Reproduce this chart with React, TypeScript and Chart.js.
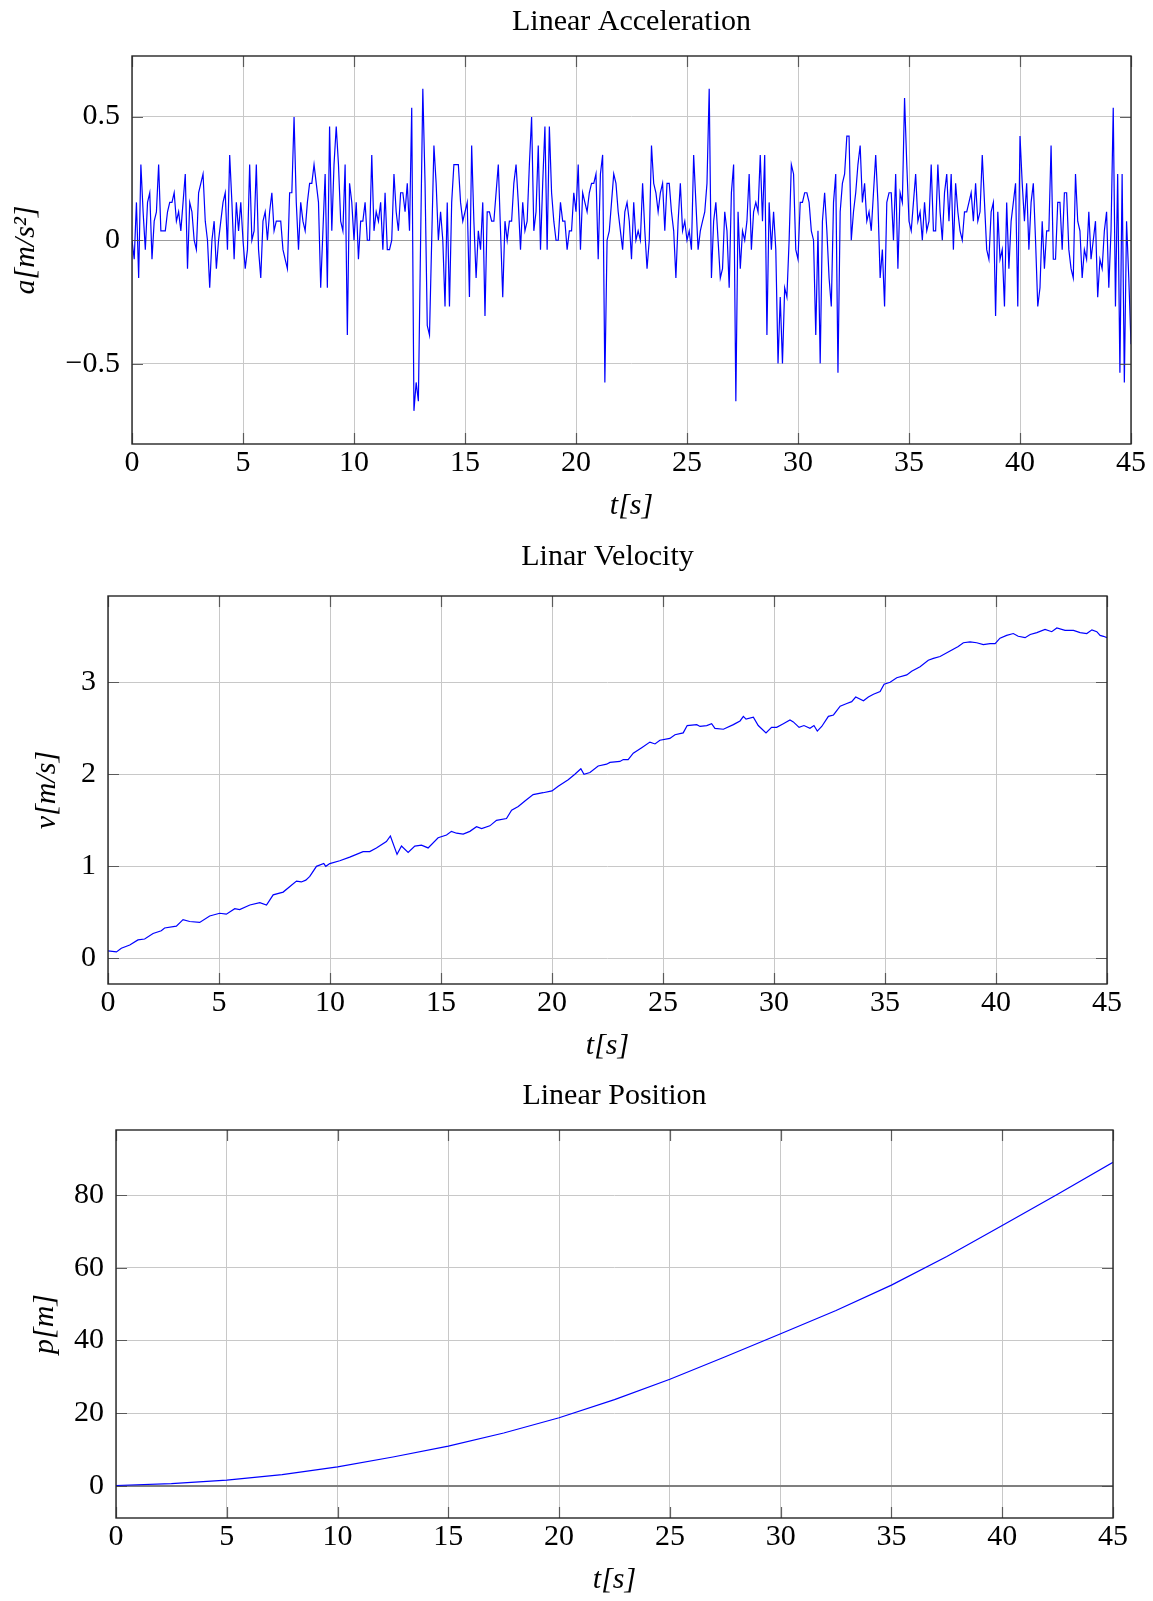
import React, { useEffect, useRef } from 'react';
import { Chart, registerables } from 'chart.js';

Chart.register(...registerables);

// ---------- DATA ----------
const sampleStep = 0.1; // s, sampling period of the acceleration log

const accelerationValues: number[] = [
  0, -0.077, 0.153, -0.153, 0.306, 0.115, -0.038, 0.153, 0.192, -0.077,
  0.077, 0.115, 0.306, 0.038, 0.038, 0.038, 0.115, 0.153, 0.153, 0.192,
  0.077, 0.115, 0.038, 0.153, 0.268, -0.115, 0.153, 0.115, 0, -0.038,
  0.192, 0.23, 0.268, 0.077, 0, -0.192, 0, 0.077, -0.115, 0,
  0.077, 0.153, 0.192, -0.038, 0.345, 0.153, -0.077, 0.153, 0.038, 0.153,
  0, -0.115, -0.038, 0.306, 0, 0.038, 0.306, -0.038, -0.153, 0.077,
  0.115, 0, 0.115, 0.192, 0.038, 0.077, 0.077, 0.077, -0.038, -0.077,
  -0.115, 0.192, 0.192, 0.498, 0.153, -0.038, 0.153, 0.077, 0.038, 0.153,
  0.23, 0.23, 0.306, 0.23, 0.153, -0.192, 0.038, 0.268, -0.192, 0.46,
  0.038, 0.306, 0.46, 0.306, 0.077, 0.038, 0.306, -0.383, 0.23, 0.153,
  0, 0.153, -0.077, 0.077, 0.077, 0.153, 0, 0, 0.345, 0.038,
  0.115, 0.077, 0.153, -0.038, 0.192, -0.038, -0.038, 0, 0.268, 0.115,
  0.038, 0.192, 0.192, 0.115, 0.23, 0.038, 0.536, -0.69, -0.575, -0.651,
  0, 0.613, 0.23, -0.345, -0.383, 0, 0.383, 0.23, 0, 0.115,
  0, -0.268, 0.153, -0.268, 0.153, 0.306, 0.306, 0.306, 0.153, 0.077,
  0.115, 0.153, -0.23, 0.383, 0.077, -0.153, 0.038, -0.038, 0.153, -0.306,
  0.115, 0.115, 0.077, 0.077, 0.192, 0.306, 0.038, -0.23, 0.077, 0,
  0.077, 0.077, 0.23, 0.306, 0.153, -0.038, 0.153, 0.038, 0.077, 0.306,
  0.498, 0.038, 0.115, 0.383, -0.038, 0.23, 0.46, -0.038, 0.46, 0.192,
  0.077, 0, 0, 0.153, 0.077, 0.077, -0.038, 0.038, 0.038, 0.192,
  0.115, 0.306, -0.038, 0.192, 0.153, 0.115, 0.192, 0.23, 0.23, 0.268,
  -0.077, 0.268, 0.345, -0.575, 0, 0.038, 0.153, 0.268, 0.23, 0.115,
  0.038, -0.038, 0.115, 0.153, 0.077, -0.077, 0.153, 0, 0.038, 0,
  0.23, 0.038, -0.115, 0, 0.383, 0.23, 0.192, 0.115, 0.192, 0.23,
  0.038, 0.23, 0.23, 0.115, 0.038, -0.153, 0.077, 0.23, 0.038, 0.077,
  0, 0.038, -0.038, 0.345, 0.153, -0.038, 0.038, 0.077, 0.115, 0.23,
  0.613, -0.153, 0.077, 0.153, 0, -0.153, -0.115, 0.115, 0.038, -0.192,
  0.192, 0.306, -0.651, 0.115, -0.115, 0.038, 0, 0.077, 0.268, -0.038,
  0.115, 0.153, 0.115, 0.345, 0.077, 0.345, -0.383, 0.153, -0.038, 0.115,
  -0.038, -0.498, -0.23, -0.498, -0.192, -0.23, 0, 0.306, 0.268, -0.038,
  -0.077, 0.153, 0.153, 0.192, 0.192, 0.153, 0.038, 0, -0.383, 0.038,
  -0.498, 0.077, 0.192, 0.038, -0.153, -0.268, 0.153, 0.268, -0.536, 0.115,
  0.23, 0.268, 0.421, 0.421, 0, 0.115, 0.192, 0.306, 0.383, 0.153,
  0.23, 0.077, 0.115, 0.038, 0.192, 0.345, 0.153, -0.153, -0.038, -0.268,
  0.153, 0.192, 0.192, 0, 0.268, -0.115, 0.192, 0.153, 0.575, 0.306,
  0.077, 0.038, 0.153, 0.268, 0.077, 0.115, 0, 0.153, 0.038, 0.077,
  0.306, 0.038, 0.038, 0.306, 0.115, 0, 0.192, 0.268, 0.077, 0.268,
  -0.038, 0.23, 0.115, 0.038, 0, 0.115, 0.115, 0.153, 0.192, 0.077,
  0.23, 0.077, 0.115, 0.345, 0.153, -0.038, -0.077, 0.115, 0.153, -0.306,
  0.115, -0.077, -0.038, -0.268, 0.153, -0.115, 0.077, 0.153, 0.23, -0.268,
  0.421, 0.23, 0.077, 0.23, -0.038, 0.153, 0.23, 0, -0.268, -0.192,
  0.077, -0.115, 0.038, 0.038, 0.383, -0.077, -0.077, 0.153, 0.153, -0.038,
  0.192, 0.192, -0.038, -0.115, -0.153, 0.268, 0.077, 0.038, -0.153, -0.038,
  -0.077, 0.115, -0.077, 0, 0.077, -0.23, -0.077, -0.115, 0.038, 0.115,
  -0.192, 0.038, 0.536, -0.268, 0.268, -0.536, 0.268, -0.575, 0.077, -0.153,
  -0.421,
];
const accelerationTimes: number[] = accelerationValues.map((_, i) => Math.round(i * sampleStep * 10) / 10);

const velocityTimes: number[] = [
  0, 0.38, 0.6, 0.98, 1.35, 1.65, 2.03, 2.4, 2.55, 3.08, 3.38, 3.68, 4.13, 4.58, 5.03, 5.33, 5.71, 5.93,
  6.39, 6.84, 7.14, 7.44, 7.89, 8.49, 8.71, 8.91, 9.09, 9.39, 9.72, 9.81, 9.99, 10.44, 10.89, 11.49,
  11.79, 12.09, 12.54, 12.72, 13.02, 13.22, 13.52, 13.82, 14.12, 14.42, 14.87, 15.25, 15.47, 15.7, 16.0,
  16.3, 16.6, 16.83, 17.2, 17.5, 17.95, 18.18, 18.48, 18.78, 19.15, 19.6, 20.0, 20.28, 20.73, 21.03,
  21.3, 21.44, 21.71, 22.08, 22.46, 22.61, 23.06, 23.21, 23.43, 23.66, 24.04, 24.41, 24.64, 24.86,
  25.31, 25.54, 25.91, 26.09, 26.52, 26.67, 26.97, 27.19, 27.34, 27.72, 28.17, 28.47, 28.62, 28.74,
  29.07, 29.29, 29.64, 29.89, 30.12, 30.42, 30.72, 30.87, 31.13, 31.35, 31.62, 31.8, 31.95, 32.15,
  32.45, 32.68, 32.98, 33.28, 33.5, 33.68, 34.03, 34.25, 34.48, 34.78, 34.96, 35.23, 35.53, 35.98,
  36.2, 36.58, 36.95, 37.18, 37.48, 37.93, 38.3, 38.53, 38.83, 39.13, 39.43, 39.73, 39.96, 40.18,
  40.48, 40.78, 41.0, 41.31, 41.54, 41.84, 42.21, 42.51, 42.74, 43.11, 43.49, 43.79, 44.09, 44.32,
  44.54, 44.69, 44.84, 45.0,
];
const velocityValues: number[] = [
  0.08, 0.07, 0.11, 0.145, 0.2, 0.21, 0.27, 0.3, 0.33, 0.35, 0.42, 0.4, 0.39, 0.46, 0.49, 0.48, 0.54, 0.53,
  0.58, 0.605, 0.58, 0.69, 0.72, 0.84, 0.83, 0.85, 0.89, 1.0, 1.03, 1.0, 1.03, 1.06, 1.1, 1.16,
  1.16, 1.2, 1.27, 1.33, 1.13, 1.22, 1.15, 1.22, 1.23, 1.2, 1.31, 1.34, 1.38, 1.36, 1.35,
  1.38, 1.43, 1.41, 1.44, 1.5, 1.52, 1.61, 1.65, 1.71, 1.78, 1.8, 1.82, 1.87, 1.94, 2.0,
  2.06, 2.0, 2.02, 2.09, 2.11, 2.13, 2.14, 2.16, 2.16, 2.23, 2.29, 2.35, 2.33, 2.37,
  2.39, 2.43, 2.45, 2.53, 2.54, 2.52, 2.53, 2.55, 2.5, 2.49, 2.54, 2.58, 2.63, 2.6,
  2.62, 2.53, 2.45, 2.51, 2.51, 2.55, 2.59, 2.57, 2.51, 2.53, 2.5, 2.53, 2.47, 2.52,
  2.63, 2.645, 2.74, 2.77, 2.79, 2.84, 2.8, 2.84, 2.87, 2.9, 2.98, 3.0, 3.05, 3.08,
  3.12, 3.17, 3.24, 3.26, 3.28, 3.34, 3.39, 3.43, 3.44, 3.43, 3.41, 3.42, 3.42, 3.48,
  3.51, 3.53, 3.5, 3.485, 3.52, 3.54, 3.575, 3.55, 3.59, 3.565, 3.565, 3.54, 3.53, 3.57,
  3.55, 3.51, 3.5, 3.485,
];

const positionTimes: number[] = [0, 2.5, 5, 7.5, 10, 12.5, 15, 17.5, 20, 22.5, 25, 27.5, 30, 32.5, 35, 37.5, 40, 42.5, 45];
const positionValues: number[] = [0.05, 0.55, 1.55, 3.05, 5.15, 7.9, 10.9, 14.5, 18.7, 23.7, 29.3, 35.5, 41.8, 48.2, 55.2, 63.1, 71.6, 80.2, 89.0];

const timeTicks: number[] = [0, 5, 10, 15, 20, 25, 30, 35, 40, 45];
const accelerationTicks: number[] = [-0.5, 0, 0.5];
const velocityTicks: number[] = [0, 1, 2, 3];
const positionTicks: number[] = [0, 20, 40, 60, 80];

// ---------- STYLE / LAYOUT ----------
const FONT = "'Liberation Serif', 'Times New Roman', serif";
const FS = 30;
const LH = FS * 1.2;
const MID = 0.3375 * FS; // canvas 'middle' baseline offset above alphabetic baseline
const WIDTH = 1153;

type Spec = {
  top: number;
  height: number;
  area: { left: number; right: number; top: number; bottom: number };
  yTitleX: number;
  titleGap: number;
  title: string;
  yTitle: string;
  xs: number[];
  ys: number[];
  yMin: number;
  yMax: number;
  yTicks: number[];
  zeroColor: string;
  zeroWidth: number;
};

const specs: Spec[] = [
  {
    top: 0, height: 530, area: { left: 132, right: 1131, top: 56, bottom: 444 }, yTitleX: 30, titleGap: 23.7,
    title: 'Linear Acceleration', yTitle: 'a[m/s²]', xs: accelerationTimes, ys: accelerationValues,
    yMin: -0.824, yMax: 0.745, yTicks: accelerationTicks, zeroColor: '#9c9c9c', zeroWidth: 1,
  },
  {
    top: 530, height: 540, area: { left: 108, right: 1107, top: 66, bottom: 454 }, yTitleX: 51, titleGap: 28.7,
    title: 'Linar Velocity', yTitle: 'v[m/s]', xs: velocityTimes, ys: velocityValues,
    yMin: -0.279, yMax: 3.938, yTicks: velocityTicks, zeroColor: '#c8c8c8', zeroWidth: 1,
  },
  {
    top: 1070, height: 531, area: { left: 116, right: 1113, top: 60, bottom: 448 }, yTitleX: 48.5, titleGap: 23.7,
    title: 'Linear Position', yTitle: 'p[m]', xs: positionTimes, ys: positionValues,
    yMin: -8.9, yMax: 97.9, yTicks: positionTicks, zeroColor: '#7f7f7f', zeroWidth: 2,
  },
];

const fmt = (v: number) => (v < 0 ? '\u2212' + String(Math.abs(v)) : String(v));

const framePlugin = {
  id: 'pgfFrame',
  afterDraw(chart: any) {
    const { ctx, chartArea, scales } = chart;
    const { left, right, top, bottom } = chartArea;
    ctx.save();
    ctx.strokeStyle = 'rgba(70,70,70,0.85)';
    ctx.lineWidth = 1.2;
    const L = 11;
    for (const t of scales.x.ticks) {
      const px = Math.round(scales.x.getPixelForValue(t.value)) + 0.5;
      ctx.beginPath();
      ctx.moveTo(px, bottom); ctx.lineTo(px, bottom - L);
      ctx.moveTo(px, top); ctx.lineTo(px, top + L);
      ctx.stroke();
    }
    for (const t of scales.y.ticks) {
      const py = Math.round(scales.y.getPixelForValue(t.value)) + 0.5;
      ctx.beginPath();
      ctx.moveTo(left, py); ctx.lineTo(left + L, py);
      ctx.moveTo(right, py); ctx.lineTo(right - L, py);
      ctx.stroke();
    }
    ctx.strokeStyle = '#262626';
    ctx.lineWidth = 1.4;
    ctx.strokeRect(left, top, right - left, bottom - top);
    ctx.restore();
  },
};

function Plot({ spec }: { spec: Spec }) {
  const ref = useRef<HTMLCanvasElement | null>(null);
  useEffect(() => {
    if (!ref.current) return;
    const { area, height } = spec;
    const titlePadTop = area.top - spec.titleGap - MID - LH / 2;
    const chart = new Chart(ref.current, {
      type: 'line',
      data: {
        datasets: [
          {
            data: spec.xs.map((x, i) => ({ x, y: spec.ys[i] })),
            borderColor: '#0000ff',
            borderWidth: 1.2,
            pointRadius: 0,
            tension: 0,
            fill: false,
          },
        ],
      },
      options: {
        responsive: false,
        animation: false,
        devicePixelRatio: 1,
        events: [],
        layout: { padding: { left: 0, right: WIDTH - area.right, top: 0, bottom: 0 } },
        plugins: {
          legend: { display: false },
          tooltip: { enabled: false },
          title: {
            display: true,
            text: spec.title,
            fullSize: false,
            color: '#000',
            font: { family: FONT, size: FS, weight: 'normal' },
            padding: { top: titlePadTop, bottom: area.top - titlePadTop - LH },
          },
        },
        scales: {
          x: {
            type: 'linear',
            min: 0,
            max: 45,
            afterBuildTicks: (s: any) => { s.ticks = timeTicks.map((v) => ({ value: v })); },
            afterFit: (s: any) => { s.height = height - area.bottom; },
            border: { display: false },
            grid: { color: '#c8c8c8', lineWidth: 1, drawTicks: false },
            ticks: {
              color: '#000', font: { family: FONT, size: FS }, padding: 19.5 - LH / 2,
              maxRotation: 0, autoSkip: false, callback: (v: any) => fmt(Number(v)),
            },
            title: {
              display: true, text: 't[s]', color: '#000',
              font: { family: FONT, size: FS, style: 'italic' },
              padding: { top: 0, bottom: height - area.bottom - 62.5 - LH / 2 },
            },
          },
          y: {
            type: 'linear',
            min: spec.yMin,
            max: spec.yMax,
            afterBuildTicks: (s: any) => { s.ticks = spec.yTicks.map((v) => ({ value: v })); },
            afterFit: (s: any) => { s.width = area.left; },
            border: { display: false },
            grid: {
              drawTicks: false,
              color: (c: any) => (c.tick && c.tick.value === 0 ? spec.zeroColor : '#c8c8c8'),
              lineWidth: (c: any) => (c.tick && c.tick.value === 0 ? spec.zeroWidth : 1),
            },
            ticks: {
              color: '#000', font: { family: FONT, size: FS }, padding: 12,
              autoSkip: false, callback: (v: any) => fmt(Number(v)),
            },
            title: {
              display: true, text: spec.yTitle, color: '#000',
              font: { family: FONT, size: FS, style: 'italic' },
              padding: { top: spec.yTitleX - 3.5 - LH / 2, bottom: 0 },
            },
          },
        },
      } as any,
      plugins: [framePlugin],
    });
    return () => chart.destroy();
  }, [spec]);
  return (
    <canvas
      ref={ref}
      width={WIDTH}
      height={spec.height}
      style={{ position: 'absolute', left: 0, top: spec.top, width: WIDTH, height: spec.height, display: 'block' }}
    />
  );
}

export default function App() {
  return (
    <div style={{ position: 'absolute', left: 0, top: 0, width: WIDTH, height: 1601, background: '#fff', overflow: 'hidden' }}>
      {specs.map((s) => (
        <Plot key={s.title} spec={s} />
      ))}
    </div>
  );
}
